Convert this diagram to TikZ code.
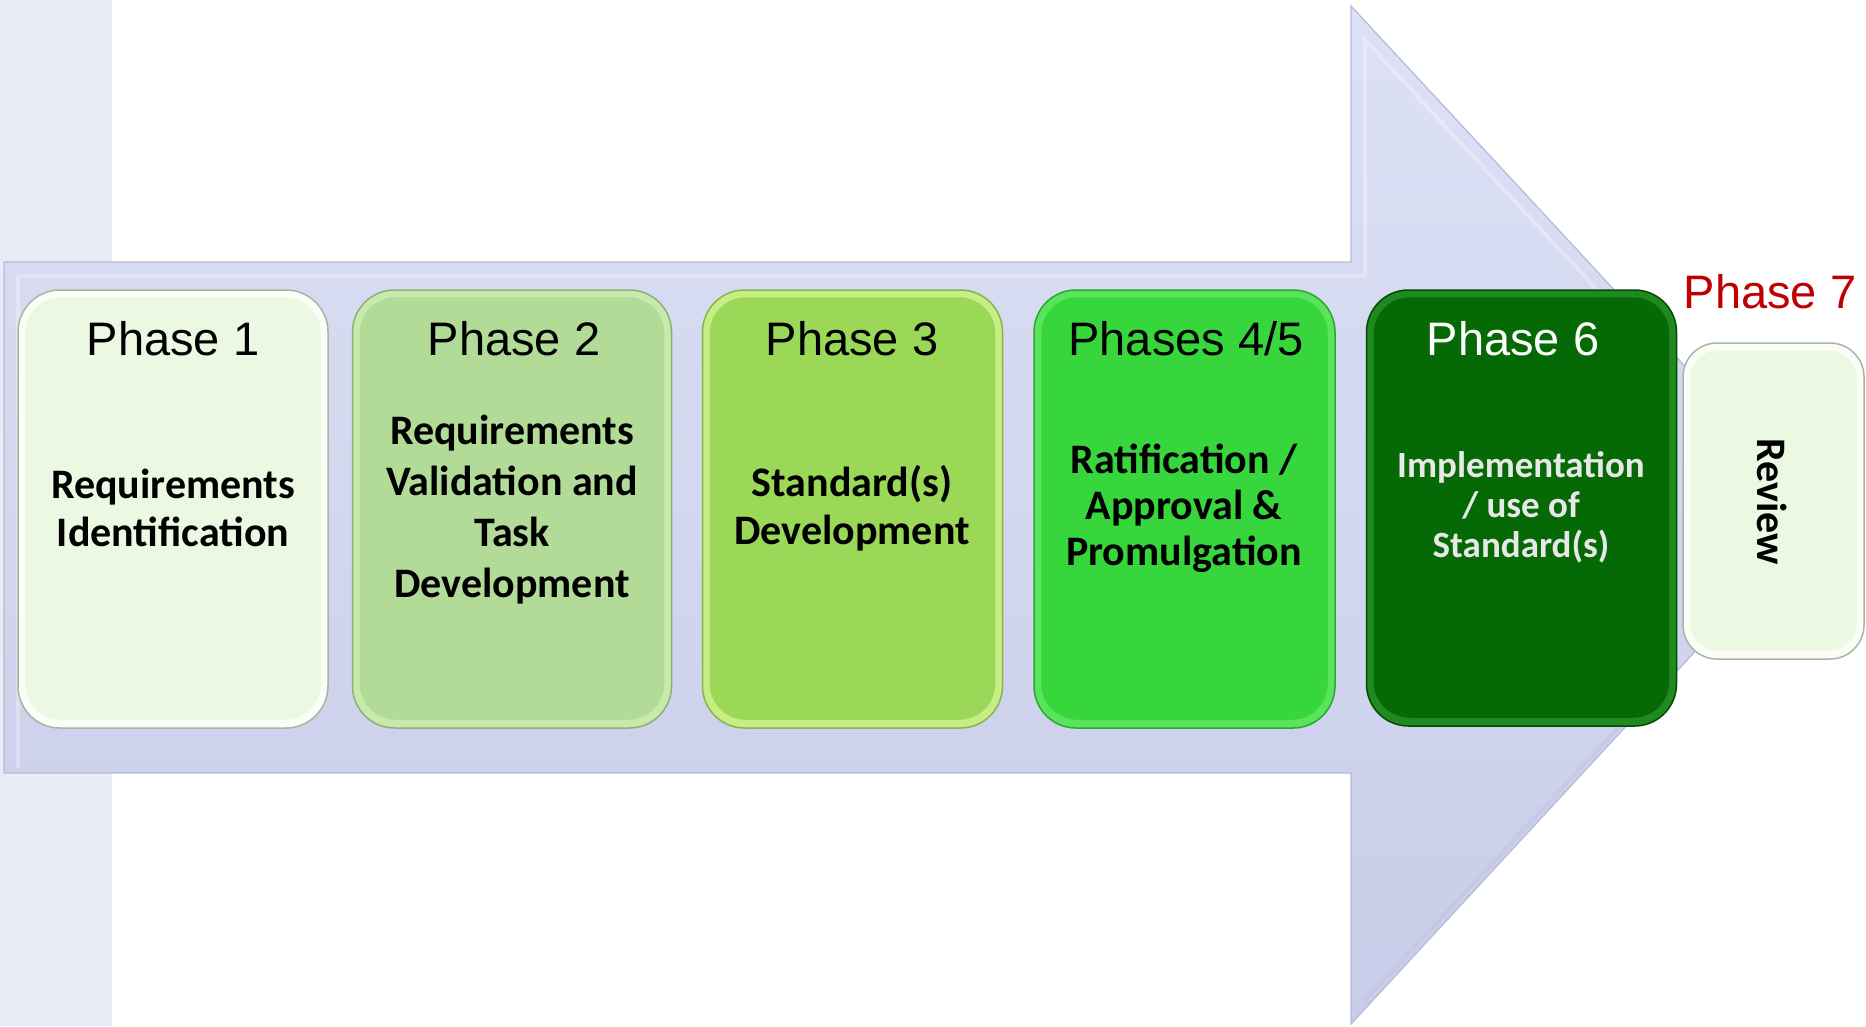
\documentclass[tikz,border=0pt]{standalone}
\usepackage{fontspec}
\setmainfont{Liberation Sans}
\newfontfamily\bodyfont{Carlito}
\definecolor{stripc}{HTML}{E9ECF6}
\definecolor{arrtop}{HTML}{DDE1F5}
\definecolor{arrbot}{HTML}{C8CCE8}
\definecolor{arrline}{HTML}{B4BAD8}
\definecolor{mainA}{HTML}{EBF8E2}\definecolor{rimA}{HTML}{FBFEF7}\definecolor{lineA}{HTML}{A9B5A2}
\definecolor{mainB}{HTML}{B1DB96}\definecolor{rimB}{HTML}{C6EAAC}\definecolor{lineB}{HTML}{8DAF78}
\definecolor{mainC}{HTML}{9BD857}\definecolor{rimC}{HTML}{C6EE84}\definecolor{lineC}{HTML}{86B54E}
\definecolor{mainD}{HTML}{38D63D}\definecolor{rimD}{HTML}{5AE45E}\definecolor{lineD}{HTML}{2AA82E}
\definecolor{mainE}{HTML}{056A05}\definecolor{rimE}{HTML}{208A20}\definecolor{lineE}{HTML}{034A03}
\definecolor{redph}{HTML}{C00000}
\definecolor{greytxt}{HTML}{E8E8E8}
\tikzset{
  phasebox/.style={draw, line width=1.5pt, rounded corners=42pt, inner sep=0pt},
  titletext/.style={anchor=base, font=\fontsize{47}{50}\selectfont, inner sep=0pt},
  bodytext/.style={align=center, inner sep=0pt, font=\bodyfont\bfseries\fontsize{42}{#1}\selectfont},
}
\newcommand{\bevel}[2]{%
  \fill[#2, rounded corners=36pt] ([shift={(8pt,-8pt)}]#1.north west) rectangle ([shift={(-8pt,9pt)}]#1.south east);}
\begin{document}
\begin{tikzpicture}[x=1pt,y=-1pt]
\useasboundingbox (0,0) rectangle (1866,1026);
% left strip
\fill[stripc] (0,0) rectangle (112,1026);
% big arrow
\shade[top color=arrtop, bottom color=arrbot, draw=arrline, line width=1.2pt]
  (4,262) -- (1351,262) -- (1351,6) -- (1822,514) -- (1351,1024) -- (1351,773) -- (4,773) -- cycle;
\draw[white, opacity=0.3, line width=4pt]
  (18,768) -- (18,276) -- (1365,276) -- (1365,40) -- (1600,293);
\draw[arrline, opacity=0.25, line width=4pt]
  (1365,1000) -- (1620,726);
% boxes
\node[phasebox, fill=rimA, draw=lineA, minimum width=310pt, minimum height=438pt] (b1) at (173,509) {};
\bevel{b1}{mainA}
\node[phasebox, fill=rimB, draw=lineB, minimum width=319pt, minimum height=438pt] (b2) at (512,509) {};
\bevel{b2}{mainB}
\node[phasebox, fill=rimC, draw=lineC, minimum width=300pt, minimum height=438pt] (b3) at (852.5,509) {};
\bevel{b3}{mainC}
\node[phasebox, fill=rimD, draw=lineD, minimum width=301pt, minimum height=438pt] (b4) at (1184.5,509) {};
\bevel{b4}{mainD}
\node[phasebox, fill=rimE, draw=lineE, minimum width=310pt, minimum height=436pt] (b5) at (1521.5,508) {};
\bevel{b5}{mainE}
\node[phasebox, fill=rimA, draw=lineA, minimum width=181pt, minimum height=316pt, rounded corners=34pt] (b7) at (1773.5,501) {};
\fill[mainA, rounded corners=28pt] ([shift={(8pt,-8pt)}]b7.north west) rectangle ([shift={(-8pt,9pt)}]b7.south east);
% titles
\node[titletext] (t1) at (173,355) {Phase 1};
\node[titletext] (t2) at (514,355) {Phase 2};
\node[titletext] (t3) at (852,355) {Phase 3};
\node[titletext] (t4) at (1186,355) {Phases 4/5};
\node[titletext, text=white] (t5) at (1513,355) {Phase 6};
\node[titletext, text=redph] (t7) at (1770,308) {Phase 7};
% bodies
\node[bodytext=48] (d1) at (173,508) {Requirements\\Identification};
\node[bodytext=51] (d2) at (512,510) {Requirements\\Validation and\\Task\\Development};
\node[bodytext=48] (d3) at (852,508) {Standard(s)\\Development};
\node[bodytext=46] (d4) at (1184,508) {Ratification /\\Approval \&\\Promulgation};
\node[align=center, inner sep=0pt, text=greytxt, font=\bodyfont\bfseries\fontsize{37}{40}\selectfont] (d5) at (1521,507) {Implementation\\/ use of\\Standard(s)};
\node[inner sep=0pt, rotate=-90, font=\bodyfont\bfseries\fontsize{42}{48}\selectfont] (d7) at (1772,502) {Review};
\end{tikzpicture}
\end{document}
